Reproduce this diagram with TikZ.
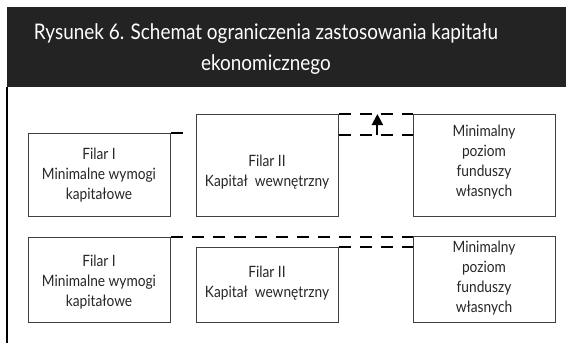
\documentclass[tikz,border=0pt]{standalone}
\usepackage{fontspec}
\setmainfont[FakeStretch=0.88]{Lato}
\usetikzlibrary{arrows.meta,calc}
\definecolor{hdr}{RGB}{35,35,35}
\tikzset{
  x=1pt,y=-1pt,
  pbox/.style={draw=black!75,line width=0.8pt,anchor=north west,inner sep=0pt},
  ptext/.style={align=center,font=\fontsize{15.6}{20}\selectfont,text=black!85},
  dline/.style={line width=2.2pt,dash pattern=on 12pt off 9pt},
}
\begin{document}
\begin{tikzpicture}
\useasboundingbox (0,0) rectangle (566,343);
\fill[hdr] (7,7) rectangle (566,87);
\node[align=center,text=white,font=\fontsize{21.5}{31}\selectfont] (title) at (266,49)
  {Rysunek 6. Schemat ograniczenia zastosowania kapitału\\ekonomicznego};
\draw[line width=2pt] (7,87) -- (7,343);

% top row
\node[pbox,minimum width=142pt,minimum height=83pt] (a1) at (28,133) {};
\node[pbox,minimum width=142pt,minimum height=102pt] (a2) at (196,114) {};
\node[pbox,minimum width=142pt,minimum height=102pt] (a3) at (413,114) {};
\node[ptext] (ta1) at (99,175) {Filar I\\Minimalne wymogi\\kapitałowe};
\node[ptext] (ta2) at (267,172) {Filar II\\Kapitał\ \ wewnętrzny};
\node[ptext] (ta3) at (484,162) {Minimalny\\poziom\\funduszy\\własnych};
\coordinate (s1) at ($(a1.north east)+(12,0)$);
\draw[line width=2.2pt] (a1.north east) -- (s1);
\draw[dline] (a2.north east) -- (a3.north west);
\coordinate (m1) at ($(a2.north east)+(0,21)$);
\coordinate (m2) at (m1 -| a3.west);
\draw[dline] (m1) -- (m2);
\coordinate (ar0) at ($(m1)!0.52!(m2)$);
\coordinate (ar1) at (ar0 |- a2.north);
\draw[line width=2pt,-{Triangle[width=11pt,length=11pt]}] (ar0) -- (ar1);

% bottom row
\node[pbox,minimum width=142pt,minimum height=85pt] (b1) at (28,237) {};
\node[pbox,minimum width=142pt,minimum height=75pt] (b2) at (196,247) {};
\node[pbox,minimum width=142pt,minimum height=86pt] (b3) at (413,236) {};
\node[ptext] (tb1) at (99,282) {Filar I\\Minimalne wymogi\\kapitałowe};
\node[ptext] (tb2) at (267,283) {Filar II\\Kapitał\ \ wewnętrzny};
\node[ptext] (tb3) at (484,278) {Minimalny\\poziom\\funduszy\\własnych};
\draw[dline] (b1.north east) -- (b1.north east -| b3.west);
\draw[dline] (b2.north east) -- (b2.north east -| b3.west);
\end{tikzpicture}
\end{document}
